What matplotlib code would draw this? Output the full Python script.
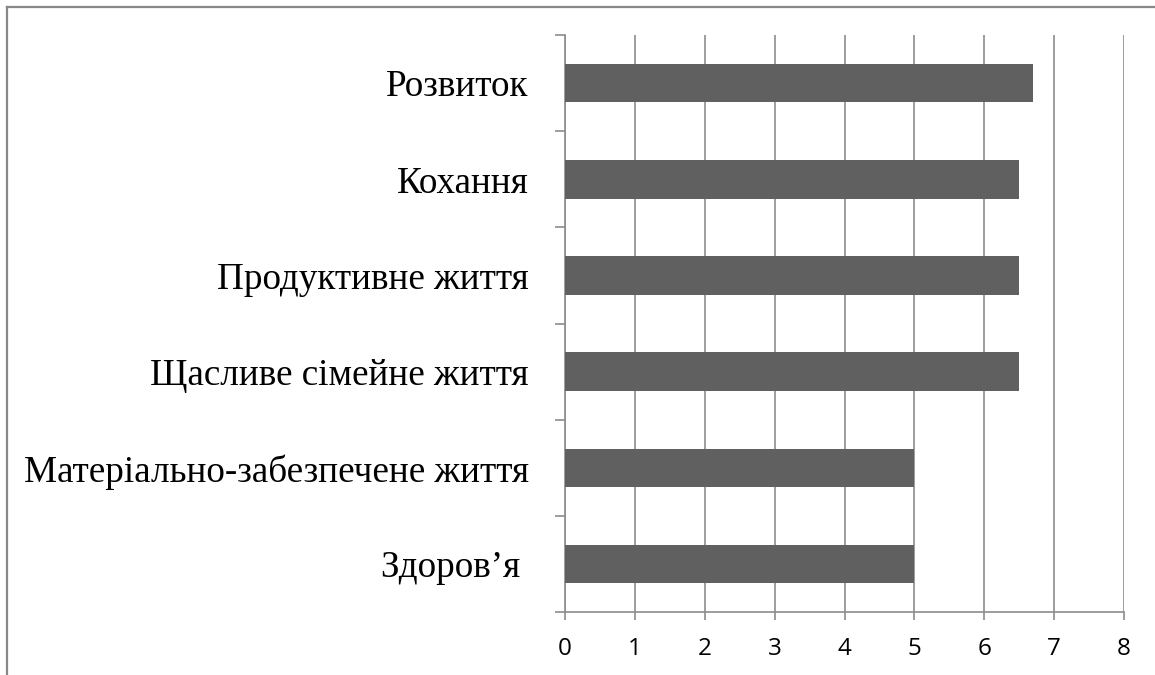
import numpy as np
import matplotlib
matplotlib.use("Agg")
import matplotlib.pyplot as plt
from matplotlib.lines import Line2D

# categories from bottom to top
categories = [
    "Здоров’я ",
    "Матеріально-забезпечене життя",
    "Щасливе сімейне життя",
    "Продуктивне життя",
    "Кохання",
    "Розвиток",
]
values = [5, 5, 6.5, 6.5, 6.5, 6.7]
x_ticks = [0, 1, 2, 3, 4, 5, 6, 7, 8]

GRID = "#8c8c8c"
BAR = "#606060"

fig = plt.figure(figsize=(11.55, 6.75), dpi=100)
ax = fig.add_axes([0.4892, 0.0933, 0.4840, 0.8548])

y = np.arange(len(categories))
ax.barh(y, values, height=0.4, color=BAR, zorder=3)

ax.set_xlim(0, 8)
ax.set_ylim(-0.5, len(categories) - 0.5)
ax.set_xticks(x_ticks)
ax.set_xticklabels([str(t) for t in x_ticks], fontfamily="Open Sans", fontsize=17.5)
ax.set_yticks(y)
ax.set_yticklabels(categories, fontfamily="Liberation Serif", fontsize=26.7)
ax.set_yticks(np.arange(len(categories) + 1) - 0.5, minor=True)

ax.tick_params(axis="y", which="major", length=0, pad=26)
ax.tick_params(axis="y", which="minor", length=7, width=1.2, color=GRID, direction="out")
ax.tick_params(axis="x", length=6, width=1.2, color=GRID, direction="out", pad=12)

ax.xaxis.grid(True, color=GRID, linewidth=1.2, zorder=1)
ax.set_axisbelow(True)

for side in ["top", "right"]:
    ax.spines[side].set_visible(False)
for side in ["left", "bottom"]:
    ax.spines[side].set_color(GRID)
    ax.spines[side].set_linewidth(1.2)

# outer frame: top and left only
fig.add_artist(Line2D([7 / 1155, 1.0], [1 - 7 / 675, 1 - 7 / 675], color="#888888", linewidth=1.6, transform=fig.transFigure))
fig.add_artist(Line2D([7 / 1155, 7 / 1155], [0.0, 1 - 7 / 675], color="#888888", linewidth=1.6, transform=fig.transFigure))

fig.savefig("out.png", dpi=100)
